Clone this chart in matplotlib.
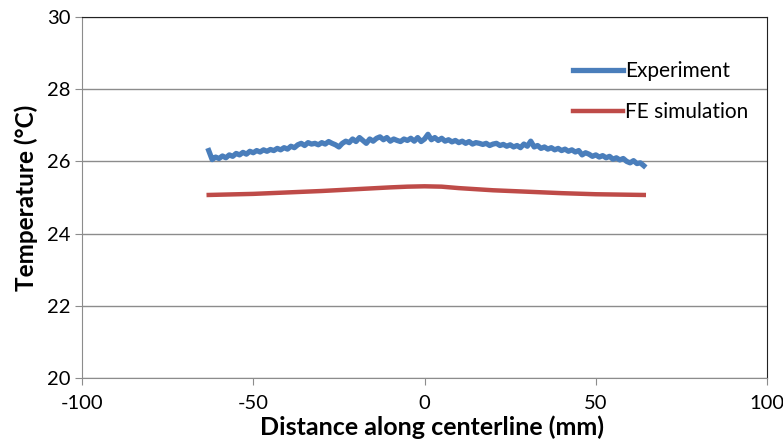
import numpy as np
import matplotlib
matplotlib.use("Agg")
import matplotlib.pyplot as plt

plt.rcParams['font.family'] = ['Lato', 'DejaVu Sans']
plt.rcParams['axes.unicode_minus'] = False

# measured temperature along centerline, 1 mm steps from -63 to 64 mm
exp_x = np.arange(-63, 65)
exp_t = [
    26.30, 26.05, 26.12, 26.08, 26.15, 26.10, 26.18, 26.14, 26.22, 26.18,
    26.25, 26.20, 26.28, 26.24, 26.30, 26.26, 26.32, 26.28, 26.33, 26.30,
    26.36, 26.32, 26.38, 26.34, 26.42, 26.38, 26.46, 26.50, 26.44, 26.52,
    26.48, 26.50, 26.46, 26.52, 26.48, 26.55, 26.50, 26.46, 26.40, 26.50,
    26.56, 26.52, 26.62, 26.55, 26.66, 26.58, 26.50, 26.62, 26.56, 26.64,
    26.68, 26.60, 26.66, 26.56, 26.62, 26.58, 26.55, 26.62, 26.58, 26.64,
    26.56, 26.66, 26.55, 26.62, 26.75, 26.60, 26.66, 26.58, 26.64, 26.56,
    26.60, 26.54, 26.58, 26.52, 26.56, 26.50, 26.55, 26.48, 26.52, 26.50,
    26.47, 26.50, 26.44, 26.48, 26.50, 26.44, 26.47, 26.42, 26.46, 26.40,
    26.44, 26.38, 26.48, 26.42, 26.56, 26.40, 26.44, 26.36, 26.40, 26.34,
    26.38, 26.32, 26.36, 26.30, 26.34, 26.28, 26.32, 26.26, 26.30, 26.18,
    26.24, 26.20, 26.14, 26.18, 26.12, 26.16, 26.10, 26.14, 26.06, 26.10,
    26.04, 26.08, 26.00, 25.96, 26.02, 25.94, 25.96, 25.88,
]

# FE simulation
fe_x = [-63, -50, -40, -30, -20, -10, -5, 0, 5, 10, 20, 30, 40, 50, 64]
fe_t = [25.07, 25.10, 25.14, 25.18, 25.23, 25.28, 25.30, 25.31, 25.30, 25.26,
        25.20, 25.16, 25.12, 25.09, 25.07]

fig = plt.figure(figsize=(7.83, 4.45), dpi=100)
ax = fig.add_axes([0.1047, 0.1506, 0.875, 0.8112])

ax.plot(exp_x, exp_t, color='#4A7EBB', lw=3.8, label='Experiment')
ax.plot(fe_x, fe_t, color='#BE4B48', lw=3.2, label='FE simulation')

ax.set_xlim(-100, 100)
ax.set_ylim(20, 30)
ax.set_xticks([-100, -50, 0, 50, 100])
ax.set_yticks([20, 22, 24, 26, 28, 30])
ax.yaxis.grid(True, color='#8C8C8C', lw=1.0)
ax.set_axisbelow(True)

for s in ['left', 'bottom']:
    ax.spines[s].set_color('#8C8C8C')
for s in ['top', 'right']:
    ax.spines[s].set_color('#222222')
ax.tick_params(axis='both', colors='#8C8C8C', labelcolor='black',
               labelsize=14.5, length=5, direction='out')
ax.tick_params(axis='x', pad=7)

ax.set_xlabel('Distance along centerline (mm)', fontsize=18, fontweight='bold')
ax.xaxis.set_label_coords(0.511, -0.105)
ax.set_ylabel('Temperature (°C)', fontsize=17.5, fontweight='bold', labelpad=6)

ax.legend(loc='upper right', bbox_to_anchor=(1.0, 0.93), frameon=False,
          fontsize=15, handlelength=2.4, handletextpad=0.1, labelspacing=1.0)

fig.savefig('out.png', dpi=100)
